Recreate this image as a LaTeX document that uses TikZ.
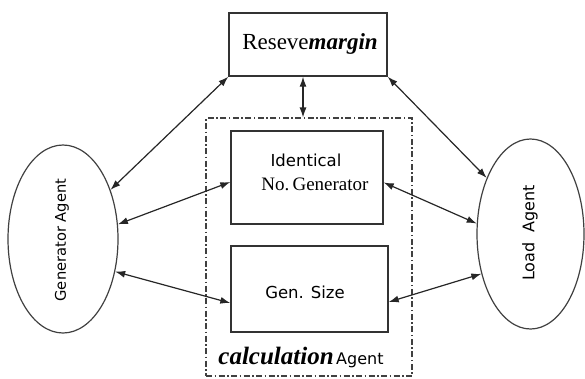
\documentclass[tikz,border=0pt]{standalone}
\usepackage{fontspec}
\setmainfont{Liberation Serif}
\newfontfamily\dvsans{DejaVu Sans}
\usetikzlibrary{arrows.meta,shapes.geometric}
\begin{document}
\begin{tikzpicture}[x=1pt,y=-1pt,
  boxnode/.style={draw=black!80,line width=1.4pt,rectangle,inner sep=0pt},
  agentnode/.style={draw=black!75,line width=1.2pt,ellipse,inner sep=0pt},
  link/.style={line width=1.2pt,black!85,{Latex[length=10pt,width=7pt]}-{Latex[length=10pt,width=7pt]}},
  calcbox/.style={draw=black!75,line width=1.1pt,dash pattern=on 6pt off 2.5pt on 1.5pt off 2.5pt,rectangle,inner sep=0pt}]
\useasboundingbox (0,0) rectangle (585,378);
% dashed calculation container
\node[calcbox,minimum width=206pt,minimum height=258pt] (calc) at (309,247) {};
% boxes
\node[boxnode,minimum width=158pt,minimum height=63pt] (top) at (308,44.5) {};
\node[boxnode,minimum width=152pt,minimum height=93pt] (ident) at (307,177.5) {};
\node[boxnode,minimum width=157pt,minimum height=86pt] (gsize) at (309.5,289) {};
% ellipses
\node[agentnode,minimum width=110pt,minimum height=188pt] (gen) at (63,239) {};
\node[agentnode,minimum width=107pt,minimum height=190pt] (load) at (530.5,234) {};
% texts
\node[inner sep=0pt,font=\fontsize{23}{27}\selectfont] (ttop) at (310,44) {Reseve\textbf{\textit{margin}}};
\node[inner sep=0pt,font=\dvsans\fontsize{16.5}{20}\selectfont] (tid1) at (306,160) {Identical};
\node[inner sep=0pt,font=\fontsize{19}{22}\selectfont] (tid2) at (315,184) {No.\,Generator};
\node[inner sep=0pt,font=\dvsans\fontsize{16.5}{20}\selectfont] (tgs) at (305,292) {Gen. Size};
\node[inner sep=0pt] (tcalc) at (301,357) {{\fontsize{25}{29}\selectfont\textbf{\textit{calculation}}} {\dvsans\fontsize{16}{20}\selectfont Agent}};
\node[inner sep=0pt,rotate=90,font=\dvsans\fontsize{14.7}{18}\selectfont] (tgen) at (62,240) {Generator Agent};
\node[inner sep=0pt,rotate=90,font=\dvsans\fontsize{16}{20}\selectfont] (tload) at (530,233) {Load\ \ Agent};
% connectors
\draw[link] (gen.46) -- (top.south west);
\draw[link] (gen.15) -- ([yshift=-4.5pt]ident.west);
\draw[link] (gen.-32) -- ([yshift=-14pt]gsize.west);
\draw[link] (load.128) -- (top.south east);
\draw[link] (load.169) -- ([yshift=-5pt]ident.east);
\draw[link] (load.219) -- ([yshift=-13pt]gsize.east);
\draw[link] ([xshift=-5pt]top.south) -- ([xshift=-6pt]calc.north);
\end{tikzpicture}
\end{document}
